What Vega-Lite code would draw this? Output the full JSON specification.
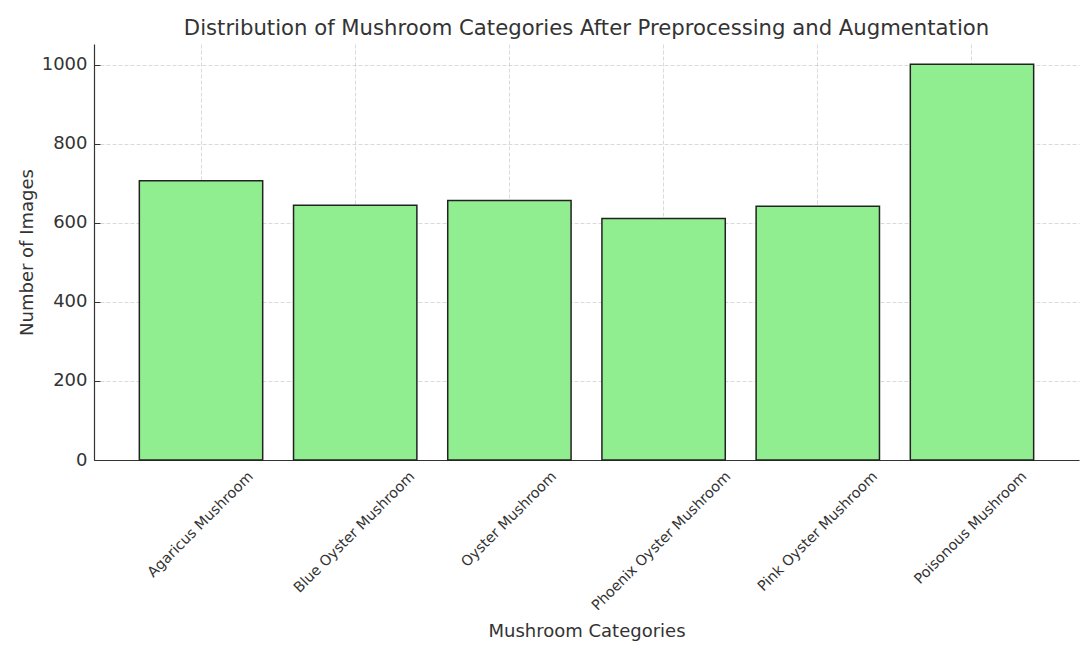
{
  "$schema": "https://vega.github.io/schema/vega-lite/v6.json",
  "autosize": {"type": "none"},
  "padding": {"left": 94, "top": 44, "right": 3, "bottom": 188},
  "width": 985,
  "height": 416,
  "background": "white",
  "title": {
    "text": "Distribution of Mushroom Categories After Preprocessing and Augmentation",
    "fontSize": 21.2,
    "fontWeight": "normal",
    "color": "#333333",
    "baseline": "alphabetic",
    "frame": "group",
    "offset": -12
  },
  "data": {
    "values": [
      {"category": "Agaricus Mushroom", "images": 707},
      {"category": "Blue Oyster Mushroom", "images": 645},
      {"category": "Oyster Mushroom", "images": 657},
      {"category": "Phoenix Oyster Mushroom", "images": 611},
      {"category": "Pink Oyster Mushroom", "images": 642},
      {"category": "Poisonous Mushroom", "images": 1002}
    ]
  },
  "mark": {"type": "bar", "fill": "#90EE90", "stroke": "#222222", "strokeWidth": 1.5},
  "encoding": {
    "x": {
      "field": "category",
      "type": "nominal",
      "sort": null,
      "scale": {"paddingInner": 0.2, "paddingOuter": 0.294},
      "axis": {
        "title": "Mushroom Categories",
        "labelAngle": -45,
        "labelAlign": "right",
        "labelBaseline": "middle",
        "labelFontSize": 14.4,
        "labelLimit": 0,
        "labelOffset": {"expr": "2.5 * length(datum.label) + 7.5"},
        "labelPadding": 20,
        "titlePadding": 10
      }
    },
    "y": {
      "field": "images",
      "type": "quantitative",
      "scale": {"domain": [0, 1053], "nice": false},
      "axis": {
        "title": "Number of Images",
        "values": [0, 200, 400, 600, 800, 1000],
        "format": "d",
        "labelFontSize": 18,
        "labelPadding": 13,
        "titlePadding": 5
      }
    }
  },
  "config": {
    "font": "DejaVu Sans",
    "view": {"stroke": null},
    "axis": {
      "zindex": 1,
      "domainColor": "#333333",
      "domainWidth": 1.2,
      "tickColor": "#333333",
      "tickSize": -6,
      "tickWidth": 1,
      "labelColor": "#333333",
      "titleColor": "#333333",
      "titleFontSize": 18,
      "titleFontWeight": "normal",
      "grid": true,
      "gridColor": "#b0b0b0",
      "gridOpacity": 0.6,
      "gridDash": [4, 2],
      "gridWidth": 0.8
    }
  }
}
